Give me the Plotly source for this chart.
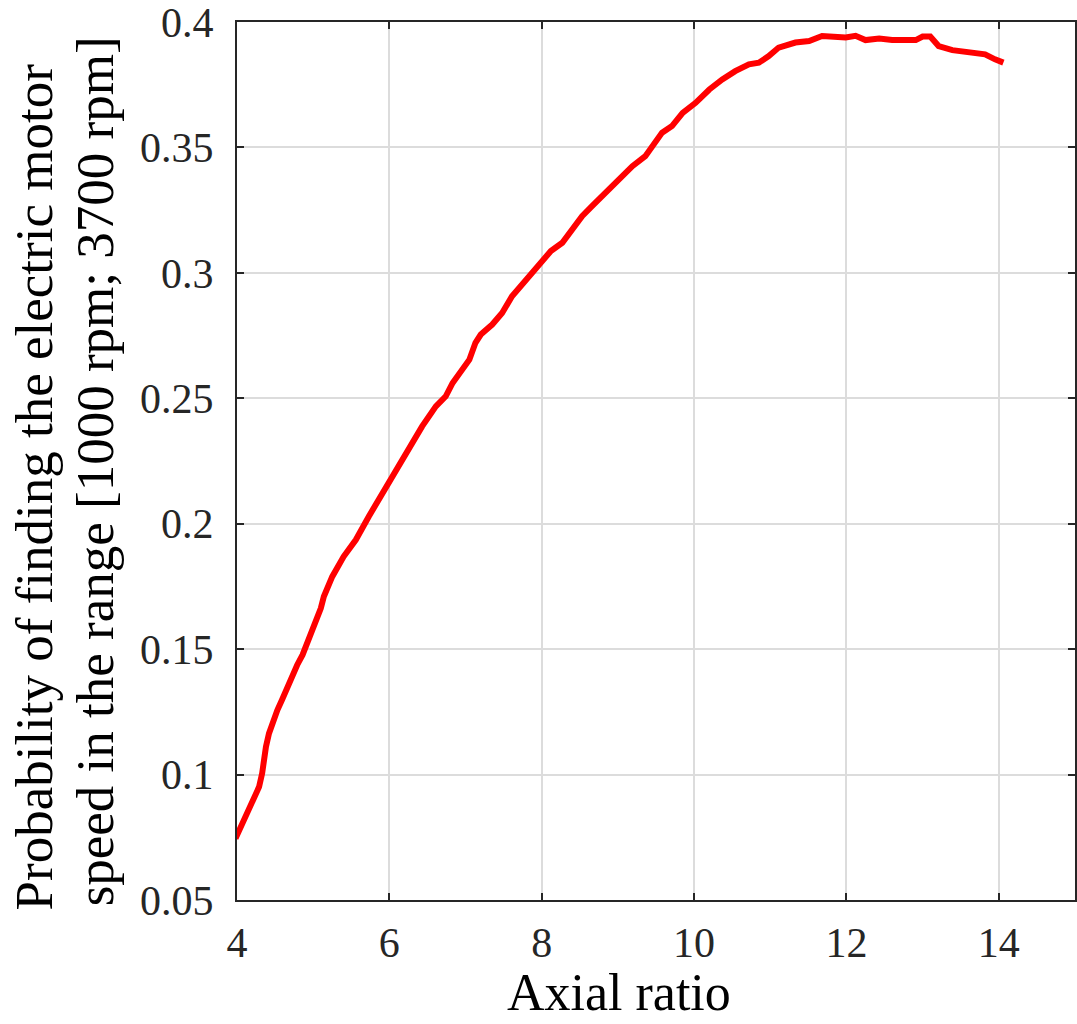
import plotly.graph_objects as go

axial_ratio = [3.98, 4.07, 4.16, 4.22, 4.29, 4.33, 4.35, 4.38, 4.42, 4.46, 4.53, 4.59, 4.66,
               4.72, 4.79, 4.86, 4.92, 4.97, 5.03, 5.10, 5.14, 5.25, 5.40, 5.56, 5.73, 5.91,
               6.08, 6.26, 6.43, 6.61, 6.74, 6.83, 6.96, 7.05, 7.13, 7.20, 7.35, 7.48, 7.61,
               7.79, 7.96, 8.12, 8.27, 8.40, 8.53, 8.66, 8.84, 9.01, 9.19, 9.36, 9.49, 9.58,
               9.71, 9.85, 10.02, 10.20, 10.37, 10.54, 10.72, 10.85, 10.98, 11.11, 11.33,
               11.51, 11.68, 11.81, 11.99, 12.12, 12.25, 12.43, 12.60, 12.91, 13.00, 13.10,
               13.21, 13.39, 13.65, 13.82, 13.95, 14.06]
probability = [0.0745, 0.0805, 0.0851, 0.0898, 0.0951, 0.1005, 0.1058, 0.1111, 0.1164, 0.1204,
               0.1257, 0.1297, 0.1350, 0.1397, 0.1437, 0.1477, 0.1523, 0.1563, 0.1616, 0.1663,
               0.1710, 0.1789, 0.1869, 0.1936, 0.2029, 0.2122, 0.2202, 0.2295, 0.2388, 0.2468,
               0.2508, 0.2561, 0.2614, 0.2654, 0.2721, 0.2754, 0.2794, 0.2840, 0.2907, 0.2973,
               0.3026, 0.3087, 0.3120, 0.3173, 0.3226, 0.3266, 0.3319, 0.3372, 0.3425, 0.3465,
               0.3519, 0.3559, 0.3585, 0.3638, 0.3678, 0.3731, 0.3771, 0.3804, 0.3831, 0.3838,
               0.3864, 0.3898, 0.3918, 0.3924, 0.3944, 0.3944, 0.3938, 0.3945, 0.3928, 0.3934,
               0.3928, 0.3928, 0.3942, 0.3942, 0.3904, 0.3888, 0.3878, 0.3871, 0.3851, 0.3838]

x_ticks = [4, 6, 8, 10, 12, 14]
y_ticks = [0.05, 0.1, 0.15, 0.2, 0.25, 0.3, 0.35, 0.4]
x_title = "Axial ratio"
y_title_lines = ["Probability of finding the electric motor",
                 "speed in the range [1000 rpm; 3700 rpm]"]

FONT = "Liberation Serif"
W, H = 1077, 1024
ML, MR, MT, MB = 237, 0, 22, 124
PW, PH = W - ML - MR, H - MT - MB

def px_to_paper_x(px):
    return (px - ML) / PW

def px_to_paper_y(py):
    return 1 - (py - MT) / PH

fig = go.Figure()
fig.add_trace(go.Scatter(x=axial_ratio, y=probability, mode="lines",
                         line=dict(color="#ff0000", width=6), showlegend=False))

axis_common = dict(
    showline=True, linecolor="#262626", linewidth=2, mirror="ticks",
    ticks="inside", ticklen=7, tickwidth=1.5, tickcolor="#262626",
    showgrid=True, gridcolor="#dcdcdc", gridwidth=1.5, zeroline=False,
    tickfont=dict(family=FONT, size=42, color="#262626"),
    ticklabeloverflow="allow",
)
fig.update_xaxes(range=[4, 15], tickmode="array", tickvals=x_ticks,
                 ticktext=[str(v) for v in x_ticks], ticklabelstandoff=5, **axis_common)
fig.update_yaxes(range=[0.0499999, 0.4000001], tickmode="array", tickvals=y_ticks,
                 ticktext=[f"{v:g}" for v in y_ticks], ticklabelstandoff=13, **axis_common)

fig.add_annotation(text=x_title, xref="paper", yref="paper",
                   x=px_to_paper_x(620), y=px_to_paper_y(1023),
                   xanchor="center", yanchor="bottom", showarrow=False,
                   font=dict(family=FONT, size=52, color="black"))
fig.add_annotation(text=y_title_lines[0], xref="paper", yref="paper", textangle=-90,
                   x=px_to_paper_x(34), y=px_to_paper_y(487),
                   xanchor="center", yanchor="middle", showarrow=False,
                   font=dict(family=FONT, size=53, color="black"))
fig.add_annotation(text=y_title_lines[1], xref="paper", yref="paper", textangle=-90,
                   x=px_to_paper_x(95), y=px_to_paper_y(471),
                   xanchor="center", yanchor="middle", showarrow=False,
                   font=dict(family=FONT, size=53, color="black"))

fig.update_layout(width=W, height=H, margin=dict(l=ML, r=MR, t=MT, b=MB),
                  paper_bgcolor="white", plot_bgcolor="white")

fig.write_html("out.html")
